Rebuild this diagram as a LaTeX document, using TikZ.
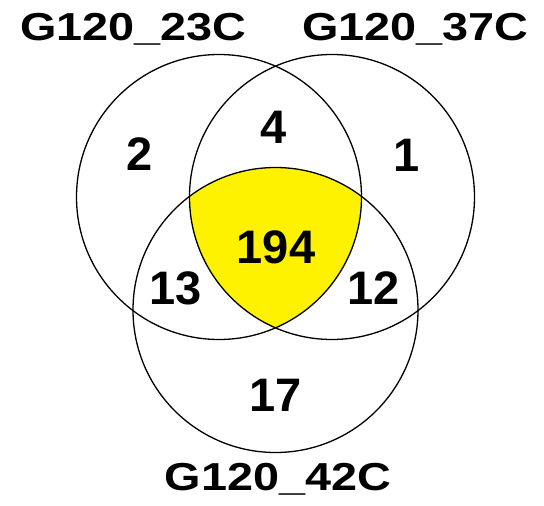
\documentclass[tikz,border=0pt]{standalone}
\usepackage{fontspec}
\setmainfont{Liberation Sans}
\begin{document}
\begin{tikzpicture}[x=1pt,y=-1pt,
  setring/.style={draw=black, line width=1.3pt},
  count/.style={font=\fontsize{47}{47}\selectfont\bfseries, inner sep=0pt},
  setname/.style={font=\fontsize{39}{39}\selectfont\bfseries, inner sep=0pt, anchor=base}]
\useasboundingbox (0,0) rectangle (544,506);
\coordinate (cA) at (219,197);
\coordinate (cB) at (332,197);
\coordinate (cC) at (275.5,310);
\begin{scope}
  \clip (cA) circle (142.5pt);
  \clip (cB) circle (142.5pt);
  \fill[yellow] (cC) circle (142.5pt);
\end{scope}
\draw[setring] (cA) circle (142.5pt);
\draw[setring] (cB) circle (142.5pt);
\draw[setring] (cC) circle (142.5pt);
\node[count] (nA) at (140,154) {2};
\node[count] (nAB) at (274,127) {4};
\node[count] (nB) at (407,155) {1};
\node[count] (nABC) at (276,247) {194};
\node[count] (nAC) at (176,288) {13};
\node[count] (nBC) at (374,288) {12};
\node[count] (nC) at (276,395) {17};
\node[setname] (lA) at (133.5,40) {\scalebox{1.2}[1]{G120\_23C}};
\node[setname] (lB) at (415.5,40) {\scalebox{1.2}[1]{G120\_37C}};
\node[setname] (lC) at (278,490.7) {\scalebox{1.2}[1]{G120\_42C}};
\end{tikzpicture}
\end{document}
